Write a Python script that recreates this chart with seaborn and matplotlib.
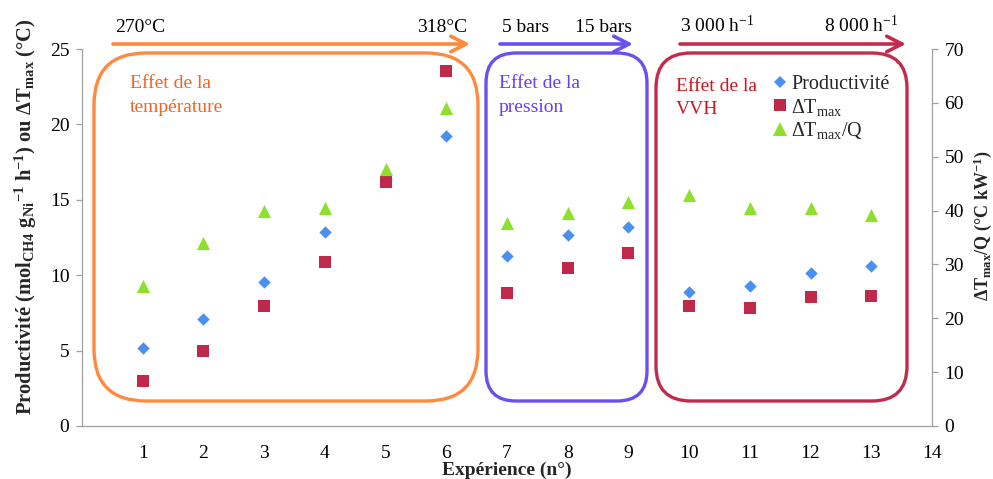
import matplotlib
matplotlib.use("Agg")
import matplotlib.pyplot as plt
import seaborn as sns
import pandas as pd
from matplotlib.patches import FancyBboxPatch, FancyArrowPatch
from matplotlib.lines import Line2D

# ---- data ----
experience = [1, 2, 3, 4, 5, 6, 7, 8, 9, 10, 11, 12, 13]
productivite = [5.15, 7.1, 9.55, 12.85, 16.3, 19.2, 11.3, 12.65, 13.2, 8.9, 9.3, 10.15, 10.6]
delta_tmax = [3.0, 5.0, 7.95, 10.85, 16.15, 23.55, 8.85, 10.45, 11.45, 7.95, 7.8, 8.55, 8.65]
delta_tmax_q = [26.0, 33.9, 40.0, 40.4, 47.8, 59.0, 37.6, 39.6, 41.6, 42.9, 40.5, 40.5, 39.2]
x_ticks = list(range(0, 15))
x_ticklabels = [""] + [str(i) for i in range(1, 15)]
left_ticks = [0, 5, 10, 15, 20, 25]
right_ticks = [0, 10, 20, 30, 40, 50, 60, 70]
legend_labels = ["Productivité", "ΔT$_{max}$", "ΔT$_{max}$/Q"]

df = pd.DataFrame({"exp": experience, "prod": productivite,
                   "dt": delta_tmax, "dtq": delta_tmax_q})

sns.set_style("white")
plt.rcParams["font.family"] = ["Liberation Serif", "DejaVu Serif"]
plt.rcParams["mathtext.default"] = "regular"

W, H = 993, 479
fig = plt.figure(figsize=(W / 100, H / 100), dpi=100)
ax = fig.add_axes([82 / W, 1 - 426 / H, 850 / W, 377 / H])
ax2 = ax.twinx()

c_blue = "#4A90F0"
c_red = "#C0294A"
c_green = "#8DE12C"
gray = "#A0A0A0"

sns.scatterplot(data=df, x="exp", y="prod", marker="D", s=40, color=c_blue,
                linewidth=0, ax=ax, zorder=3)
sns.scatterplot(data=df, x="exp", y="dt", marker="s", s=82, color=c_red,
                linewidth=0, ax=ax, zorder=4)
sns.scatterplot(data=df, x="exp", y="dtq", marker="^", s=90, color=c_green,
                linewidth=0, ax=ax2, zorder=3)

ax.set_xlim(0, 14)
ax.set_ylim(0, 25)
ax2.set_ylim(0, 70)
ax.set_xticks(x_ticks)
ax.set_xticklabels(x_ticklabels)
ax.set_yticks(left_ticks)
ax2.set_yticks(right_ticks)

for a in (ax, ax2):
    for s in a.spines.values():
        s.set_color(gray)
        s.set_linewidth(0.9)
    a.spines["top"].set_visible(False)
    a.tick_params(direction="out", length=4, width=0.9, color=gray,
                  labelsize=14, labelcolor="black", pad=5)
ax.spines["right"].set_visible(False)
ax2.spines["left"].set_visible(False)
ax2.spines["bottom"].set_visible(False)
ax.tick_params(axis="x", pad=10)

ax.set_xlabel("Expérience (n°)", fontsize=14, fontweight="bold")
ax.xaxis.set_label_coords(0.5, -0.095)
ax.set_ylabel("Productivité (mol$_{CH4}$ g$_{Ni}$$^{-1}$ h$^{-1}$) ou ΔT$_{max}$ (°C)",
              fontsize=14.8, fontweight="bold")
ax.yaxis.set_label_coords(-0.050, 0.555)
ax2.set_ylabel("ΔT$_{max}$/Q (°C kW$^{-1}$)", fontsize=13, fontweight="bold",
               rotation=90)
ax2.yaxis.set_label_coords(1.046, 0.53)

# ---- rounded boxes (pixel -> inches) ----
def box(x0, x1, y0, y1, r, color):
    p = FancyBboxPatch((x0 / 100, (H - y1) / 100), (x1 - x0) / 100, (y1 - y0) / 100,
                       boxstyle=f"round,pad=0,rounding_size={r}",
                       transform=fig.dpi_scale_trans, fill=False,
                       edgecolor=color, linewidth=2.4, zorder=5)
    fig.patches.append(p)

c_or = "#FF8A3D"
c_pu = "#6B4FEF"
c_rd = "#C32B4E"
box(94, 478, 53, 401, 0.52, c_or)
box(486, 647, 53, 401, 0.30, c_pu)
box(656, 907, 53, 401, 0.35, c_rd)

# ---- arrows ----
def arrow(x0, x1, y, color):
    a = FancyArrowPatch((x0 / 100, (H - y) / 100), (x1 / 100, (H - y) / 100),
                        transform=fig.dpi_scale_trans,
                        arrowstyle="->,head_length=0.55,head_width=0.28",
                        mutation_scale=20, color=color, linewidth=2.6,
                        shrinkA=0, shrinkB=0, zorder=5)
    fig.patches.append(a)

arrow(113, 470, 44, c_or)
arrow(500, 633, 44, c_pu)
arrow(680, 906, 44, c_rd)

def ftext(x, y, s, ha="left", color="black", size=14):
    fig.text(x / W, 1 - y / H, s, ha=ha, va="baseline", color=color, fontsize=size)

ftext(115, 32, "270°C")
ftext(467, 32, "318°C", ha="right")
ftext(502, 32, "5 bars")
ftext(632, 32, "15 bars", ha="right")
ftext(680, 32, "3 000 h$^{-1}$")
ftext(898, 32, "8 000 h$^{-1}$", ha="right")

t_or = "#F26522"
t_pu = "#6A3CF5"
t_rd = "#D2141E"
ftext(130, 88, "Effet de la", color=t_or)
ftext(130, 112, "température", color=t_or)
ftext(499, 88, "Effet de la", color=t_pu)
ftext(499, 112, "pression", color=t_pu)
ftext(676, 91, "Effet de la", color=t_rd)
ftext(676, 114, "VVH", color=t_rd)

# ---- legend ----
handles = [
    Line2D([], [], marker="D", linestyle="none", markersize=6.3, color=c_blue, markeredgewidth=0),
    Line2D([], [], marker="s", linestyle="none", markersize=9, color=c_red, markeredgewidth=0),
    Line2D([], [], marker="^", linestyle="none", markersize=9.5, color=c_green, markeredgewidth=0),
]
leg = ax2.legend(handles, legend_labels, loc="upper left",
                 bbox_to_anchor=(773 / W, 1 - 75 / H), bbox_transform=fig.transFigure,
                 frameon=False, fontsize=14.5, handlelength=0.7, handletextpad=0.2,
                 labelspacing=0.12, borderpad=0, borderaxespad=0)

fig.savefig("out.png", dpi=100)
